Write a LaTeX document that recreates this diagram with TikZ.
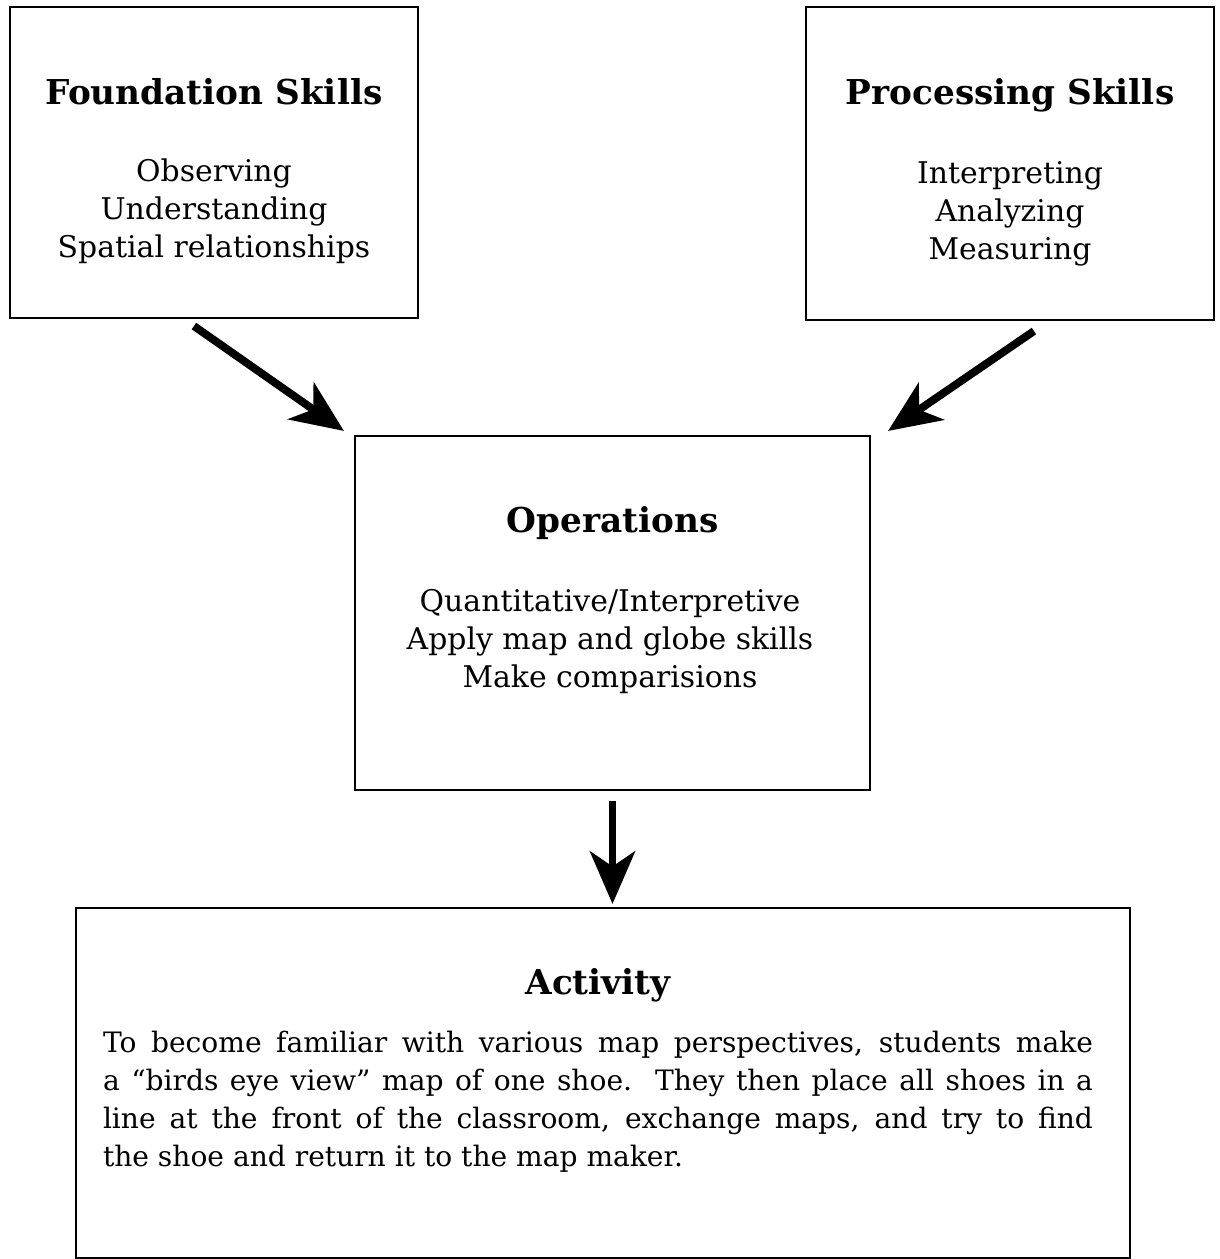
\documentclass[tikz,border=0pt]{standalone}
\usepackage{fontspec}
\setmainfont{DejaVu Serif}
\usetikzlibrary{positioning,arrows.meta}

\begin{document}
\begin{tikzpicture}[box/.style = {draw, line width=1.2pt, rectangle, inner sep=0pt},
    head/.style = {font=\fontsize{19.5}{24}\selectfont\bfseries, align=center, anchor=base},
    body/.style = {font=\fontsize{17}{21.6}\selectfont, align=center},
    arr/.style = {line width=4.5pt, -{Stealth[length=1.05cm,width=0.9cm,inset=0.3cm]}}]
    \useasboundingbox (0,0) rectangle (24.38,-25.18);
    % boxes
    \node[box, minimum width=8.16cm, minimum height=6.22cm] (found) at (4.28,-3.25) {};
    \node[box, minimum width=8.16cm, minimum height=6.26cm] (proc) at (20.2,-3.27) {};
    \node[box, minimum width=10.3cm, minimum height=7.08cm] (ops) at (12.25,-12.26) {};
    \node[box, minimum width=21.08cm, minimum height=7.0cm] (act) at (12.06,-21.66) {};
    % texts
    \node[head] (foundhead) at ([yshift=-1.98cm]found.north) {Foundation Skills};
    \node[body] (foundbody) at ([yshift=-4.1cm]found.north) {Observing\\Understanding\\Spatial relationships};
    \node[head] (prochead) at ([yshift=-1.98cm]proc.north) {Processing Skills};
    \node[body] (procbody) at ([yshift=-4.16cm]proc.north) {Interpreting\\Analyzing\\Measuring};
    \node[head] (opshead) at ([yshift=-1.96cm]ops.north) {Operations};
    \node[body] (opsbody) at ([xshift=-0.05cm,yshift=-4.14cm]ops.north) {Quantitative/Interpretive\\Apply map and globe skills\\Make comparisions};
    \node[head] (acthead) at ([xshift=-0.1cm,yshift=-1.76cm]act.north) {Activity};
    \node[body, font=\fontsize{16}{21.6}\selectfont, text width=19.8cm, align=justify] (actbody) at ([xshift=-0.1cm,yshift=-3.9cm]act.north)
        {To become familiar with various map perspectives, students make\linebreak
        a ``birds eye view'' map of one shoe.\ \ They then place all shoes in a\linebreak
        line at the front of the classroom, exchange maps, and try to find\linebreak
        the shoe and return it to the map maker.};
    % arrows
    \draw[arr] ([xshift=3.7cm,yshift=-0.14cm]found.south west) -- ([xshift=-0.2cm,yshift=0.08cm]ops.north west);
    \draw[arr] ([xshift=4.58cm,yshift=-0.2cm]proc.south west) -- ([xshift=0.34cm,yshift=0.08cm]ops.north east);
    \draw[arr] ([yshift=-0.2cm]ops.south) -- ([yshift=0.06cm]ops.south |- act.north);
\end{tikzpicture}
\end{document}
